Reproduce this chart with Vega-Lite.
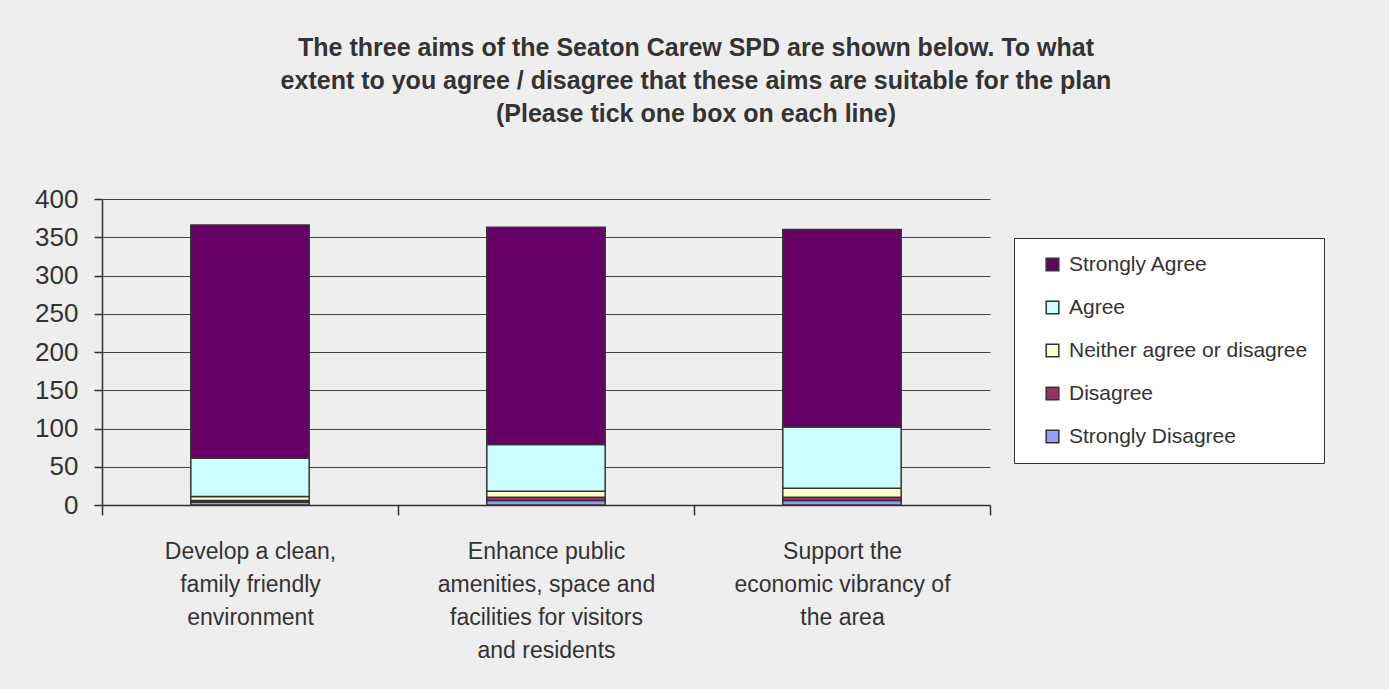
{
  "$schema": "https://vega.github.io/schema/vega-lite/v6.json",
  "autosize": {"type": "none"},
  "width": 888,
  "height": 306,
  "padding": {"left": 102, "top": 199, "right": 399, "bottom": 184},
  "background": "#eeeeee",
  "title": {
    "text": ["The three aims of the Seaton Carew SPD are shown below. To what", "extent to you agree / disagree that these aims are suitable for the plan", "(Please tick one box on each line)"],
    "anchor": "middle",
    "frame": "group",
    "dx": 150,
    "offset": 59,
    "fontSize": 25,
    "fontWeight": "bold",
    "font": "Liberation Sans",
    "color": "#333333",
    "lineHeight": 33
  },
  "data": {
    "values": [
      {"aim": "Develop a clean, family friendly environment", "response": "Strongly Disagree", "rank": 1, "count": 4},
      {"aim": "Develop a clean, family friendly environment", "response": "Disagree", "rank": 2, "count": 2},
      {"aim": "Develop a clean, family friendly environment", "response": "Neither agree or disagree", "rank": 3, "count": 5},
      {"aim": "Develop a clean, family friendly environment", "response": "Agree", "rank": 4, "count": 50},
      {"aim": "Develop a clean, family friendly environment", "response": "Strongly Agree", "rank": 5, "count": 305},
      {"aim": "Enhance public amenities, space and facilities for visitors and residents", "response": "Strongly Disagree", "rank": 1, "count": 6},
      {"aim": "Enhance public amenities, space and facilities for visitors and residents", "response": "Disagree", "rank": 2, "count": 4},
      {"aim": "Enhance public amenities, space and facilities for visitors and residents", "response": "Neither agree or disagree", "rank": 3, "count": 8},
      {"aim": "Enhance public amenities, space and facilities for visitors and residents", "response": "Agree", "rank": 4, "count": 61},
      {"aim": "Enhance public amenities, space and facilities for visitors and residents", "response": "Strongly Agree", "rank": 5, "count": 284},
      {"aim": "Support the economic vibrancy of the area", "response": "Strongly Disagree", "rank": 1, "count": 6},
      {"aim": "Support the economic vibrancy of the area", "response": "Disagree", "rank": 2, "count": 4},
      {"aim": "Support the economic vibrancy of the area", "response": "Neither agree or disagree", "rank": 3, "count": 12},
      {"aim": "Support the economic vibrancy of the area", "response": "Agree", "rank": 4, "count": 80},
      {"aim": "Support the economic vibrancy of the area", "response": "Strongly Agree", "rank": 5, "count": 258}
    ]
  },
  "mark": {"type": "bar", "stroke": "#333333", "strokeWidth": 1.5, "width": {"band": 0.4}},
  "encoding": {
    "x": {
      "field": "aim",
      "type": "nominal",
      "sort": null,
      "scale": {"paddingInner": 0, "paddingOuter": 0},
      "axis": {
        "title": null,
        "labelAngle": 0,
        "labelFontSize": 23,
        "labelFont": "Liberation Sans",
        "labelColor": "#333333",
        "labelPadding": 25,
        "labelLineHeight": 33,
        "labelBaseline": "top",
        "labelLimit": 300,
        "tickBand": "extent",
        "tickSize": 10,
        "tickColor": "#333333",
        "tickWidth": 1.5,
        "domainColor": "#333333",
        "domainWidth": 1.5,
        "labelExpr": "datum.value == 'Develop a clean, family friendly environment' ? ['Develop a clean,', 'family friendly', 'environment'] : datum.value == 'Support the economic vibrancy of the area' ? ['Support the', 'economic vibrancy of', 'the area'] : datum.value == 'Enhance public amenities, space and facilities for visitors and residents' ? ['Enhance public', 'amenities, space and', 'facilities for visitors', 'and residents'] : ''"
      }
    },
    "y": {
      "field": "count",
      "type": "quantitative",
      "stack": "zero",
      "scale": {"domain": [0, 400], "nice": false},
      "axis": {
        "title": null,
        "values": [0, 50, 100, 150, 200, 250, 300, 350, 400],
        "labelFontSize": 26,
        "labelFont": "Liberation Sans",
        "labelColor": "#333333",
        "labelPadding": 16,
        "tickSize": 8,
        "tickColor": "#333333",
        "tickWidth": 1.5,
        "domainColor": "#333333",
        "domainWidth": 1.5,
        "grid": true,
        "gridColor": "#444444",
        "gridWidth": 1
      }
    },
    "color": {
      "field": "response",
      "type": "nominal",
      "scale": {
        "domain": ["Strongly Agree", "Agree", "Neither agree or disagree", "Disagree", "Strongly Disagree"],
        "range": ["#660066", "#ccffff", "#ffffcc", "#993366", "#9999ff"]
      },
      "legend": {
        "title": null,
        "orient": "none",
        "legendX": 912,
        "legendY": 39,
        "fillColor": "#ffffff",
        "strokeColor": "#333333",
        "padding": 16,
        "symbolType": "square",
        "symbolSize": 160,
        "symbolStrokeColor": "#333333",
        "symbolStrokeWidth": 1.5,
        "symbolOffset": 12,
        "labelFontSize": 21,
        "labelFont": "Liberation Sans",
        "labelColor": "#333333",
        "labelOffset": 6,
        "labelLimit": 400,
        "rowPadding": 21
      }
    },
    "order": {"field": "rank", "type": "quantitative", "sort": "ascending"}
  },
  "config": {"view": {"stroke": null}}
}
